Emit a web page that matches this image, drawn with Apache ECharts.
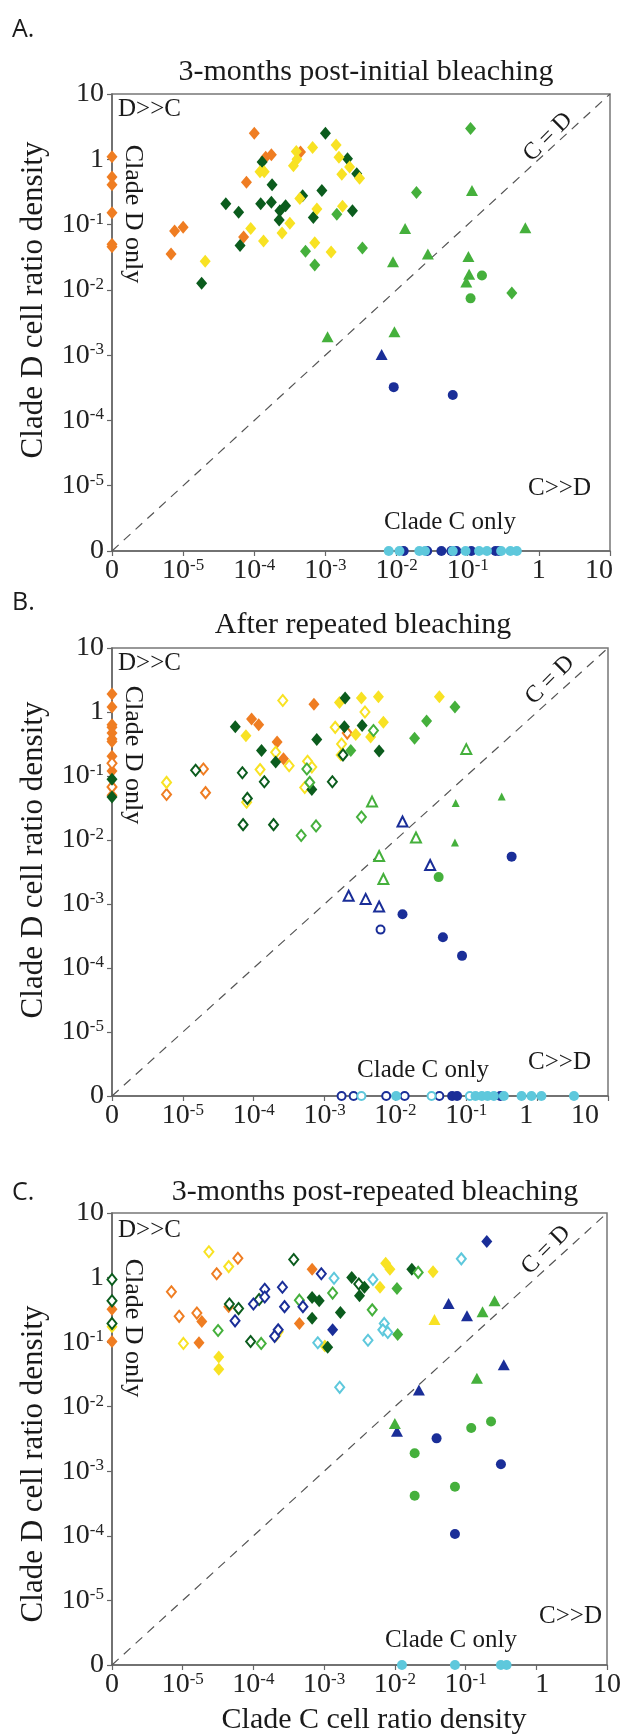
<!DOCTYPE html>
<html>
<head>
<meta charset="utf-8">
<script src="https://cdn.jsdelivr.net/npm/echarts@6/dist/echarts.min.js"></script>
<style>
  html, body { margin: 0; padding: 0; background: #fff; }
  #chart { width: 624px; height: 1736px; }
</style>
</head>
<body>
<div id="chart"></div>
<script>
// values are log10 of cell ratio density; -6 stands for 0 (clade absent)
// each point is [clade C, clade D]

// A. 3-months post-initial bleaching
const aOrangeD = [[-6,0.04],[-6,-0.27],[-6,-0.39],[-6,-0.82],[-6,-1.30],[-6,-1.34],
  [-5.12,-1.10],[-5.0,-1.04],[-5.17,-1.45],[-4.0,0.40],[-3.84,0.03],[-3.76,0.07],[-4.11,-0.35],[-4.15,-1.19],[-3.35,0.11]]
const aDkGreenD = [[-3.0,0.40],[-3.89,-0.04],[-3.75,-0.39],[-2.69,0.01],[-2.56,-0.22],[-4.40,-0.68],[-4.22,-0.81],
  [-3.91,-0.68],[-3.76,-0.66],[-3.64,-0.79],[-3.56,-0.71],[-3.65,-0.93],[-3.32,-0.56],[-3.05,-0.48],[-3.17,-0.89],
  [-2.62,-0.79],[-4.20,-1.32],[-4.74,-1.90]]
const aYellowD = [[-3.41,0.12],[-3.18,0.18],[-2.85,0.22],[-3.40,0.0],[-3.45,-0.10],[-2.81,0.03],[-2.66,-0.12],
  [-2.77,-0.23],[-2.52,-0.29],[-3.92,-0.19],[-3.86,-0.19],[-3.36,-0.60],[-3.12,-0.76],[-2.76,-0.72],[-4.05,-1.06],
  [-3.50,-0.98],[-3.61,-1.13],[-3.87,-1.25],[-3.15,-1.28],[-2.92,-1.42],[-4.69,-1.56]]
const aGreenD = [[-0.96,0.47],[-1.72,-0.51],[-2.84,-0.84],[-2.48,-1.36],[-3.28,-1.41],[-3.15,-1.62],[-0.38,-2.05]]
const aGreenT = [[-0.94,-0.48],[-1.88,-1.06],[-0.19,-1.05],[-1.56,-1.45],[-2.05,-1.57],[-0.99,-1.49],[-0.98,-1.76],
  [-1.02,-1.88],[-2.97,-2.72],[-2.03,-2.64]]
const aGreenC = [[-0.80,-1.78],[-0.96,-2.13]]
const aBlueT = [[-2.21,-2.99]]
const aBlueC = [[-2.04,-3.49],[-1.21,-3.61],[-1.90,-6],[-1.57,-6],[-1.37,-6],[-1.23,-6],[-1.16,-6],[-0.95,-6],[-0.61,-6],[-0.56,-6]]
const aCyanC = [[-2.11,-6],[-1.96,-6],[-1.68,-6],[-1.60,-6],[-1.21,-6],[-1.03,-6],[-0.84,-6],[-0.73,-6],[-0.53,-6],[-0.40,-6],[-0.31,-6]]

// B. After repeated bleaching
const bOrangeD = [[-6,0.28],[-6,0.08],[-6,-0.20],[-6,-0.24],[-6,-0.33],[-6,-0.42],[-6,-0.46],[-6,-0.69],[-6,-0.92],[-6,-1.30],
  [-4.03,-0.11],[-3.93,-0.20],[-3.15,0.12],[-3.67,-0.47],[-3.58,-0.73]]
const bOrangeO = [[-6,-0.80],[-6,-1.17],[-4.71,-0.89],[-5.23,-1.29],[-4.68,-1.26],[-2.68,-0.33]]
const bYellowO = [[-3.59,0.18],[-2.43,0.0],[-2.85,-0.24],[-2.76,-0.50],[-3.69,-0.63],[-3.50,-0.84],[-3.91,-0.90],
  [-3.18,-0.86],[-3.24,-0.77],[-5.23,-1.10],[-3.28,-1.18],[-4.10,-1.41]]
const bYellowD = [[-2.79,0.15],[-2.48,0.22],[-2.24,0.24],[-1.38,0.24],[-2.17,-0.16],[-2.56,-0.35],[-2.35,-0.39],[-4.11,-0.37],[-2.77,-0.67]]
const bDkGreenD = [[-6,-1.05],[-6,-1.33],[-2.71,0.22],[-4.26,-0.23],[-2.72,-0.23],[-2.47,-0.21],[-3.11,-0.43],[-3.89,-0.60],
  [-2.23,-0.61],[-3.69,-0.78],[-3.18,-1.21]]
const bDkGreenO = [[-4.82,-0.91],[-4.16,-0.95],[-3.85,-1.09],[-2.89,-1.09],[-4.09,-1.35],[-4.15,-1.76],[-3.72,-1.76],[-2.74,-0.67]]
const bGreenD = [[-1.16,0.08],[-1.56,-0.14],[-1.73,-0.41],[-2.63,-0.60]]
const bGreenO = [[-2.31,-0.29],[-3.25,-0.89],[-3.21,-1.10],[-2.48,-1.64],[-3.12,-1.78],[-3.33,-1.93]]
const bGreenTO = [[-1.00,-0.58],[-2.33,-1.40],[-1.71,-1.96],[-2.23,-2.25],[-2.17,-2.61]]
const bGreenT = [[-1.15,-1.42],[-0.50,-1.32],[-1.16,-2.04]]
const bGreenC = [[-1.39,-2.58]]
const bBlueTO = [[-1.90,-1.71],[-2.66,-2.87],[-2.42,-2.92],[-2.23,-3.04],[-1.51,-2.39]]
const bBlueCO = [[-2.21,-3.40],[-2.76,-6],[-2.59,-6],[-2.13,-6],[-1.87,-6],[-1.38,-6]]
const bBlueC = [[-0.36,-2.26],[-1.90,-3.16],[-1.33,-3.52],[-1.06,-3.81],[-1.20,-6],[-1.13,-6],[-0.52,-6]]
const bCyanCO = [[-2.48,-6],[-1.49,-6],[-0.95,-6]]
const bCyanC = [[-1.99,-6],[-0.87,-6],[-0.78,-6],[-0.70,-6],[-0.61,-6],[-0.47,-6],[-0.22,-6],[-0.08,-6],[0.06,-6],[0.52,-6]]

// C. 3-months post-repeated bleaching
const cOrangeD = [[-6,-0.49],[-6,-0.99],[-3.17,0.13],[-3.35,-0.71],[-4.77,-1.01],[-4.73,-0.68],[-4.35,-0.45]]
const cOrangeO = [[-5.16,-0.22],[-5.05,-0.60],[-4.52,0.06],[-4.22,0.30],[-4.80,-0.55]]
const cYellowO = [[-4.63,0.40],[-4.35,0.17],[-4.99,-1.02],[-3.65,-0.84]]
const cYellowD = [[-6,-0.76],[-4.49,-1.23],[-4.49,-1.42],[-3.68,-0.90],[-2.13,0.22],[-2.07,0.13],[-2.21,-0.15],[-1.46,0.09],[-2.99,-1.06]]
const cYellowT = [[-1.44,-0.65]]
const cDkGreenO = [[-6,-0.03],[-6,-0.36],[-6,-0.71],[-3.43,0.28],[-4.34,-0.41],[-4.21,-0.48],[-3.92,-0.34],[-4.04,-0.99],[-2.51,-0.10]]
const cDkGreenD = [[-2.61,0.0],[-2.43,-0.15],[-2.50,-0.28],[-3.17,-0.31],[-3.07,-0.36],[-3.17,-0.63],[-2.77,-0.54],[-2.95,-1.08],[-1.76,0.13]]
const cGreenO = [[-3.35,-0.35],[-2.88,-0.24],[-2.32,-0.50],[-4.50,-0.82],[-3.89,-1.02],[-1.67,0.08]]
const cGreenD = [[-1.97,-0.17],[-1.96,-0.88]]
const cBlueO = [[-3.04,0.06],[-3.84,-0.18],[-3.59,-0.15],[-4.00,-0.41],[-3.56,-0.45],[-3.30,-0.45],[-4.26,-0.67],[-3.84,-0.30],[-3.65,-0.81],[-3.70,-0.91]]
const cBlueD = [[-0.70,0.56],[-2.88,-0.81]]
const cCyanO = [[-1.06,0.29],[-2.86,-0.01],[-2.31,-0.03],[-2.15,-0.71],[-2.17,-0.81],[-2.10,-0.85],[-2.38,-0.97],[-3.09,-1.01],[-2.78,-1.70]]
const cBlueT = [[-1.24,-0.40],[-0.98,-0.59],[-0.46,-1.35],[-1.66,-1.74],[-1.97,-2.38]]
const cGreenT = [[-0.59,-0.36],[-0.76,-0.53],[-0.84,-1.56],[-2.00,-2.26]]
const cGreenC = [[-0.64,-2.23],[-0.92,-2.33],[-1.72,-2.72],[-1.72,-3.38],[-1.15,-3.24]]
const cBlueC = [[-1.41,-2.49],[-0.50,-2.89],[-1.15,-3.97]]
const cCyanC = [[-1.90,-6],[-1.15,-6],[-0.50,-6],[-0.42,-6]]

const diagonal = [[-6,-6],[1,1]]
const titles = ['3-months post-initial bleaching', 'After repeated bleaching', '3-months post-repeated bleaching']

const FONT = 'Liberation Serif'
const ORANGE = '#ef7d22', YELLOW = '#f8e223', DKGREEN = '#0b5c1d', GREEN = '#45b03c', BLUE = '#1a2e98', CYAN = '#5ec8dc'

const grids = [
  {left: 112, top: 94, width: 498, height: 457},
  {left: 112, top: 648, width: 496, height: 448},
  {left: 112, top: 1213, width: 495, height: 452}
]
// small horizontal nudges of the "1" and "10" x labels (px, negative = left)
const xLabelNudge = [{0: 0, 1: -11}, {0: -11, 1: -23}, {0: 6, 1: 0}]

function labelText(v) {
  if (v === -6) return '0'
  if (v === 0) return '1'
  if (v === 1) return '10'
  return null
}

function axis(i, isX) {
  const rich = {
    b: {fontSize: 28, fontFamily: FONT, color: '#222'},
    s: {fontSize: 17, fontFamily: FONT, color: '#222', verticalAlign: 'top'},
    n0: {fontSize: 28, fontFamily: FONT, color: '#222'},
    n1: {fontSize: 28, fontFamily: FONT, color: '#222'}
  }
  if (isX) {
    [0, 1].forEach(k => {
      const o = xLabelNudge[i][k]
      rich['n' + k].padding = o < 0 ? [0, -2 * o, 0, 0] : [0, 0, 0, 2 * o]
    })
  }
  return {
    type: 'value', gridIndex: i, min: -6, max: 1, interval: 1,
    axisLine: {show: true, onZero: false, lineStyle: {color: '#666', width: 1.5}},
    axisTick: {show: true, length: 5, lineStyle: {color: '#666', width: 1.2}},
    splitLine: {show: false},
    axisLabel: {
      formatter: function (v) {
        const t = labelText(v)
        if (t === null) return '{b|10}{s|' + v + '}'
        if (v === 0) return '{n0|' + t + '}'
        if (v === 1) return '{n1|' + t + '}'
        return '{b|' + t + '}'
      },
      rich: rich, fontSize: 28, fontFamily: FONT, color: '#222',
      margin: isX ? 6 : 8
    }
  }
}

const SIZE = {diamond: [11, 13], triangle: [12, 11], circle: 10}

function pts(data, grid, symbol, color, hollow, size) {
  return {
    type: 'scatter', data: data, xAxisIndex: grid, yAxisIndex: grid,
    symbol: symbol, symbolSize: size || SIZE[symbol], clip: false, z: 3,
    itemStyle: hollow
      ? {color: '#fff', borderColor: color, borderWidth: 2, opacity: 1}
      : {color: color, borderWidth: 0, opacity: 1}
  }
}

function diag(grid) {
  return {
    type: 'line', data: diagonal, xAxisIndex: grid, yAxisIndex: grid, symbol: 'none', silent: true, z: 1,
    lineStyle: {color: '#555', width: 1.2, type: [9, 7]}
  }
}

const series = [
  diag(0), diag(1), diag(2),
  // A
  pts(aOrangeD, 0, 'diamond', ORANGE),
  pts(aDkGreenD, 0, 'diamond', DKGREEN),
  pts(aYellowD, 0, 'diamond', YELLOW),
  pts(aGreenD, 0, 'diamond', GREEN),
  pts(aGreenT, 0, 'triangle', GREEN),
  pts(aGreenC, 0, 'circle', GREEN),
  pts(aBlueT, 0, 'triangle', BLUE),
  pts(aBlueC, 0, 'circle', BLUE),
  pts(aCyanC, 0, 'circle', CYAN),
  // B
  pts(bOrangeD, 1, 'diamond', ORANGE),
  pts(bOrangeO, 1, 'diamond', ORANGE, true, [9, 11]),
  pts(bYellowO, 1, 'diamond', YELLOW, true, [9, 11]),
  pts(bYellowD, 1, 'diamond', YELLOW),
  pts(bDkGreenD, 1, 'diamond', DKGREEN),
  pts(bDkGreenO, 1, 'diamond', DKGREEN, true, [9, 11]),
  pts(bGreenD, 1, 'diamond', GREEN),
  pts(bGreenO, 1, 'diamond', GREEN, true, [9, 11]),
  pts(bGreenTO, 1, 'triangle', GREEN, true, [10, 10]),
  pts(bGreenT, 1, 'triangle', GREEN, false, [8, 8]),
  pts(bGreenC, 1, 'circle', GREEN),
  pts(bBlueTO, 1, 'triangle', BLUE, true, [10, 10]),
  pts(bBlueCO, 1, 'circle', BLUE, true, 8),
  pts(bBlueC, 1, 'circle', BLUE),
  pts(bCyanCO, 1, 'circle', CYAN, true, 8),
  pts(bCyanC, 1, 'circle', CYAN),
  // C
  pts(cOrangeD, 2, 'diamond', ORANGE),
  pts(cOrangeO, 2, 'diamond', ORANGE, true, [9, 11]),
  pts(cYellowO, 2, 'diamond', YELLOW, true, [9, 11]),
  pts(cYellowD, 2, 'diamond', YELLOW),
  pts(cYellowT, 2, 'triangle', YELLOW),
  pts(cDkGreenO, 2, 'diamond', DKGREEN, true, [9, 11]),
  pts(cDkGreenD, 2, 'diamond', DKGREEN),
  pts(cGreenO, 2, 'diamond', GREEN, true, [9, 11]),
  pts(cGreenD, 2, 'diamond', GREEN),
  pts(cBlueO, 2, 'diamond', BLUE, true, [9, 11]),
  pts(cBlueD, 2, 'diamond', BLUE),
  pts(cCyanO, 2, 'diamond', CYAN, true, [9, 11]),
  pts(cBlueT, 2, 'triangle', BLUE),
  pts(cGreenT, 2, 'triangle', GREEN),
  pts(cGreenC, 2, 'circle', GREEN),
  pts(cBlueC, 2, 'circle', BLUE),
  pts(cCyanC, 2, 'circle', CYAN)
]

function txt(x, y, text, size, opts) {
  opts = opts || {}
  return {
    type: 'text', x: x, y: y, rotation: opts.rot || 0, z: 10,
    style: {
      text: text, fontSize: size, fontFamily: opts.font || FONT, fill: '#1a1a1a',
      align: opts.align || 'center', verticalAlign: 'middle'
    }
  }
}

const graphic = []
const panelLetters = ['A.', 'B.', 'C.']
const letterY = [30, 603, 1193]
const titleY = [72, 625, 1192]
const titleX = [366, 363, 375]
const yNameY = [300, 860, 1464]
const dcY = [109, 663, 1230]
const donlyY = [214, 755, 1328]
const cdX = [548, 550, 546], cdY = [137, 680, 1250]
const cdomY = [488, 1062, 1616], cdomX = [591, 591, 602]
const conlyX = [450, 423, 451], conlyY = [522, 1070, 1640]

for (let i = 0; i < 3; i++) {
  graphic.push(txt(12, letterY[i], panelLetters[i], 25, {font: 'Open Sans', align: 'left'}))
  graphic.push(txt(titleX[i], titleY[i], titles[i], 30))
  graphic.push(txt(34, yNameY[i], 'Clade D cell ratio density', 31, {rot: Math.PI / 2}))
  graphic.push(txt(118, dcY[i], 'D>>C', 25, {align: 'left'}))
  graphic.push(txt(133, donlyY[i], 'Clade D only', 26, {rot: -Math.PI / 2}))
  graphic.push(txt(cdX[i], cdY[i], 'C = D', 24, {rot: Math.PI / 4}))
  graphic.push(txt(cdomX[i], cdomY[i], 'C>>D', 25, {align: 'right'}))
  graphic.push(txt(conlyX[i], conlyY[i], 'Clade C only', 25))
}
graphic.push(txt(374, 1720, 'Clade C cell ratio density', 30))

const chart = echarts.init(document.getElementById('chart'), null, {renderer: 'canvas'})
chart.setOption({
  backgroundColor: '#fff',
  animation: false,
  grid: grids.map(g => Object.assign({show: true, borderColor: '#777', borderWidth: 1.5, backgroundColor: 'transparent'}, g)),
  xAxis: [axis(0, true), axis(1, true), axis(2, true)],
  yAxis: [axis(0, false), axis(1, false), axis(2, false)],
  series: series,
  graphic: graphic
})
</script>
</body>
</html>
